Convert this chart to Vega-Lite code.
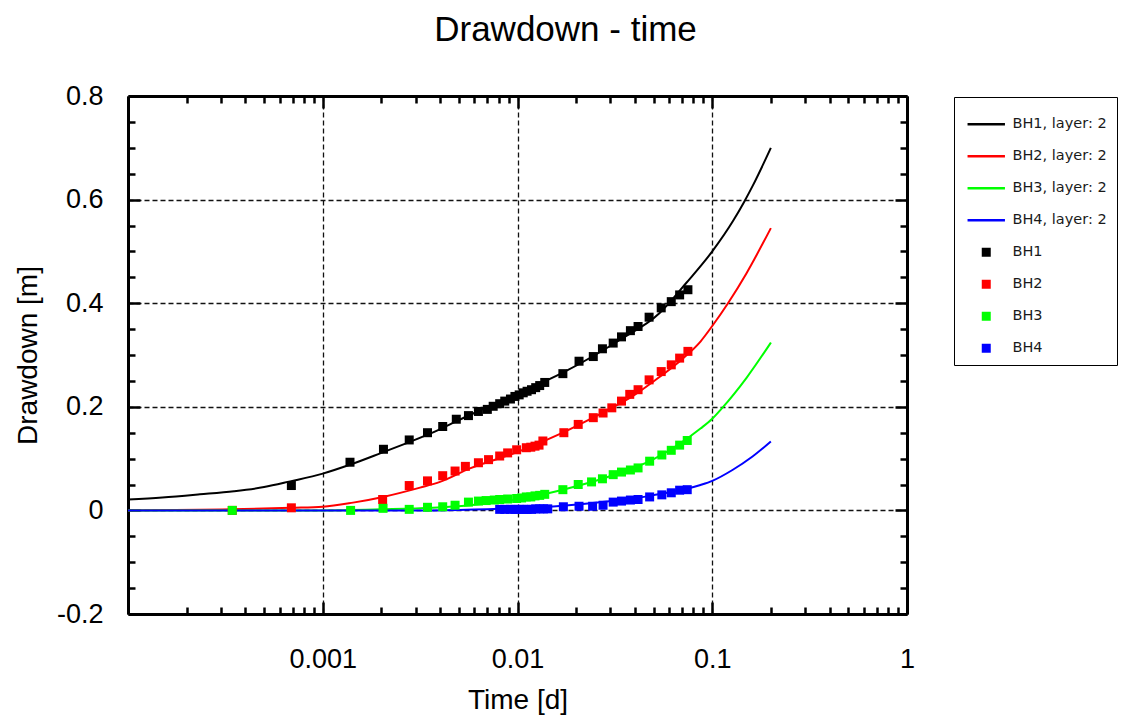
{
"$schema": "https://vega.github.io/schema/vega-lite/v6.json",
"width": 779, "height": 518,
"autosize": "none",
"padding": {"left": 128, "top": 96, "right": 214, "bottom": 106},
"background": "white",
"title": {"text": "Drawdown - time", "font": "Liberation Sans", "fontSize": 35, "fontWeight": "normal", "color": "#000", "anchor": "middle", "dx": 48, "offset": 34},
"config": {
  "view": {"stroke": null},
  "legend": {"orient": "none", "legendX": 826, "legendY": 1, "padding": 10, "strokeColor": "#000", "strokeWidth": 1, "fillColor": "white", "labelFont": "DejaVu Sans", "labelFontSize": 14.5, "labelColor": "#1a1a1a", "labelOffset": 19, "symbolOffset": 15, "rowPadding": 17, "symbolSize": 1400, "symbolStrokeWidth": 2.5, "labelLimit": 300, "titleFontSize": 8, "titlePadding": 2, "titleColor": "white"}
},
"datasets": {
"lines": [
{"series":"BH1, layer: 2","t":0.0001,"s":0.021},{"series":"BH1, layer: 2","t":0.00015,"s":0.025},{"series":"BH1, layer: 2","t":0.000234,"s":0.031},{"series":"BH1, layer: 2","t":0.00035,"s":0.037},{"series":"BH1, layer: 2","t":0.0005,"s":0.045},{"series":"BH1, layer: 2","t":0.00068,"s":0.056},{"series":"BH1, layer: 2","t":0.001,"s":0.071},{"series":"BH1, layer: 2","t":0.0014,"s":0.089},{"series":"BH1, layer: 2","t":0.002,"s":0.111},{"series":"BH1, layer: 2","t":0.0027,"s":0.130},{"series":"BH1, layer: 2","t":0.00366,"s":0.150},{"series":"BH1, layer: 2","t":0.00466,"s":0.169},{"series":"BH1, layer: 2","t":0.0065,"s":0.194},{"series":"BH1, layer: 2","t":0.0099,"s":0.225},{"series":"BH1, layer: 2","t":0.0171,"s":0.266},{"series":"BH1, layer: 2","t":0.0335,"s":0.329},{"series":"BH1, layer: 2","t":0.0537,"s":0.381},{"series":"BH1, layer: 2","t":0.0735,"s":0.439},{"series":"BH1, layer: 2","t":0.1,"s":0.50},{"series":"BH1, layer: 2","t":0.128,"s":0.559},{"series":"BH1, layer: 2","t":0.1455,"s":0.595},{"series":"BH1, layer: 2","t":0.161,"s":0.626},{"series":"BH1, layer: 2","t":0.2,"s":0.70},
{"series":"BH2, layer: 2","t":0.0001,"s":0.0},{"series":"BH2, layer: 2","t":0.00034,"s":0.002},{"series":"BH2, layer: 2","t":0.00069,"s":0.005},{"series":"BH2, layer: 2","t":0.001,"s":0.007},{"series":"BH2, layer: 2","t":0.00143,"s":0.015},{"series":"BH2, layer: 2","t":0.00204,"s":0.026},{"series":"BH2, layer: 2","t":0.00316,"s":0.044},{"series":"BH2, layer: 2","t":0.004,"s":0.055},{"series":"BH2, layer: 2","t":0.0057,"s":0.081},{"series":"BH2, layer: 2","t":0.0099,"s":0.112},{"series":"BH2, layer: 2","t":0.0171,"s":0.150},{"series":"BH2, layer: 2","t":0.0236,"s":0.176},{"series":"BH2, layer: 2","t":0.0288,"s":0.193},{"series":"BH2, layer: 2","t":0.0392,"s":0.221},{"series":"BH2, layer: 2","t":0.0495,"s":0.248},{"series":"BH2, layer: 2","t":0.07,"s":0.292},{"series":"BH2, layer: 2","t":0.087,"s":0.326},{"series":"BH2, layer: 2","t":0.1,"s":0.356},{"series":"BH2, layer: 2","t":0.12,"s":0.399},{"series":"BH2, layer: 2","t":0.15,"s":0.458},{"series":"BH2, layer: 2","t":0.2,"s":0.545},
{"series":"BH3, layer: 2","t":0.0001,"s":0.0},{"series":"BH3, layer: 2","t":0.001,"s":0.0},{"series":"BH3, layer: 2","t":0.002,"s":0.002},{"series":"BH3, layer: 2","t":0.00366,"s":0.005},{"series":"BH3, layer: 2","t":0.0057,"s":0.010},{"series":"BH3, layer: 2","t":0.0099,"s":0.021},{"series":"BH3, layer: 2","t":0.0171,"s":0.040},{"series":"BH3, layer: 2","t":0.0288,"s":0.064},{"series":"BH3, layer: 2","t":0.0495,"s":0.098},{"series":"BH3, layer: 2","t":0.087,"s":0.158},{"series":"BH3, layer: 2","t":0.1,"s":0.177},{"series":"BH3, layer: 2","t":0.112,"s":0.197},{"series":"BH3, layer: 2","t":0.15,"s":0.256},{"series":"BH3, layer: 2","t":0.2,"s":0.324},
{"series":"BH4, layer: 2","t":0.0001,"s":0.0},{"series":"BH4, layer: 2","t":0.003,"s":0.0},{"series":"BH4, layer: 2","t":0.005,"s":0.001},{"series":"BH4, layer: 2","t":0.0099,"s":0.004},{"series":"BH4, layer: 2","t":0.0171,"s":0.009},{"series":"BH4, layer: 2","t":0.0288,"s":0.017},{"series":"BH4, layer: 2","t":0.0495,"s":0.029},{"series":"BH4, layer: 2","t":0.087,"s":0.049},{"series":"BH4, layer: 2","t":0.1,"s":0.057},{"series":"BH4, layer: 2","t":0.127,"s":0.078},{"series":"BH4, layer: 2","t":0.161,"s":0.104},{"series":"BH4, layer: 2","t":0.2,"s":0.133}
],
"points": [
{"series":"BH1","t":0.00069,"s":0.048},{"series":"BH1","t":0.00138,"s":0.093},{"series":"BH1","t":0.00205,"s":0.118},{"series":"BH1","t":0.00278,"s":0.136},{"series":"BH1","t":0.00345,"s":0.150},{"series":"BH1","t":0.00413,"s":0.162},{"series":"BH1","t":0.00485,"s":0.176},{"series":"BH1","t":0.0056,"s":0.183},{"series":"BH1","t":0.0063,"s":0.191},{"series":"BH1","t":0.007,"s":0.195},{"series":"BH1","t":0.0075,"s":0.201},{"series":"BH1","t":0.0081,"s":0.206},{"series":"BH1","t":0.0086,"s":0.211},{"series":"BH1","t":0.0092,"s":0.215},{"series":"BH1","t":0.0097,"s":0.220},{"series":"BH1","t":0.0102,"s":0.223},{"series":"BH1","t":0.0107,"s":0.227},{"series":"BH1","t":0.0112,"s":0.230},{"series":"BH1","t":0.0118,"s":0.233},{"series":"BH1","t":0.0124,"s":0.237},{"series":"BH1","t":0.013,"s":0.241},{"series":"BH1","t":0.0138,"s":0.247},{"series":"BH1","t":0.0171,"s":0.264},{"series":"BH1","t":0.0207,"s":0.288},{"series":"BH1","t":0.0245,"s":0.297},{"series":"BH1","t":0.0273,"s":0.312},{"series":"BH1","t":0.031,"s":0.323},{"series":"BH1","t":0.0342,"s":0.335},{"series":"BH1","t":0.038,"s":0.347},{"series":"BH1","t":0.0416,"s":0.355},{"series":"BH1","t":0.0474,"s":0.373},{"series":"BH1","t":0.0547,"s":0.391},{"series":"BH1","t":0.0616,"s":0.403},{"series":"BH1","t":0.068,"s":0.416},{"series":"BH1","t":0.075,"s":0.426},
{"series":"BH2","t":0.000343,"s":0.0},{"series":"BH2","t":0.00069,"s":0.005},{"series":"BH2","t":0.00203,"s":0.021},{"series":"BH2","t":0.00278,"s":0.048},{"series":"BH2","t":0.00345,"s":0.057},{"series":"BH2","t":0.00413,"s":0.067},{"series":"BH2","t":0.00478,"s":0.076},{"series":"BH2","t":0.0054,"s":0.085},{"series":"BH2","t":0.0063,"s":0.092},{"series":"BH2","t":0.0071,"s":0.098},{"series":"BH2","t":0.0081,"s":0.105},{"series":"BH2","t":0.0089,"s":0.111},{"series":"BH2","t":0.0099,"s":0.117},{"series":"BH2","t":0.0111,"s":0.121},{"series":"BH2","t":0.0117,"s":0.122},{"series":"BH2","t":0.0123,"s":0.124},{"series":"BH2","t":0.0129,"s":0.126},{"series":"BH2","t":0.0135,"s":0.134},{"series":"BH2","t":0.0173,"s":0.150},{"series":"BH2","t":0.0205,"s":0.166},{"series":"BH2","t":0.0245,"s":0.179},{"series":"BH2","t":0.0275,"s":0.188},{"series":"BH2","t":0.0305,"s":0.198},{"series":"BH2","t":0.0342,"s":0.211},{"series":"BH2","t":0.0377,"s":0.224},{"series":"BH2","t":0.0416,"s":0.233},{"series":"BH2","t":0.0474,"s":0.252},{"series":"BH2","t":0.0547,"s":0.268},{"series":"BH2","t":0.0616,"s":0.281},{"series":"BH2","t":0.068,"s":0.294},{"series":"BH2","t":0.075,"s":0.307},
{"series":"BH3","t":0.000343,"s":0.0},{"series":"BH3","t":0.00139,"s":0.0},{"series":"BH3","t":0.00204,"s":0.004},{"series":"BH3","t":0.00278,"s":0.002},{"series":"BH3","t":0.00345,"s":0.006},{"series":"BH3","t":0.00413,"s":0.007},{"series":"BH3","t":0.00478,"s":0.010},{"series":"BH3","t":0.0056,"s":0.016},{"series":"BH3","t":0.0063,"s":0.018},{"series":"BH3","t":0.0069,"s":0.019},{"series":"BH3","t":0.0076,"s":0.020},{"series":"BH3","t":0.0081,"s":0.021},{"series":"BH3","t":0.0089,"s":0.022},{"series":"BH3","t":0.0099,"s":0.023},{"series":"BH3","t":0.0105,"s":0.024},{"series":"BH3","t":0.0111,"s":0.026},{"series":"BH3","t":0.0117,"s":0.026},{"series":"BH3","t":0.0123,"s":0.028},{"series":"BH3","t":0.013,"s":0.029},{"series":"BH3","t":0.0138,"s":0.031},{"series":"BH3","t":0.0171,"s":0.040},{"series":"BH3","t":0.0205,"s":0.050},{"series":"BH3","t":0.024,"s":0.055},{"series":"BH3","t":0.0273,"s":0.061},{"series":"BH3","t":0.031,"s":0.069},{"series":"BH3","t":0.0342,"s":0.074},{"series":"BH3","t":0.038,"s":0.078},{"series":"BH3","t":0.0416,"s":0.082},{"series":"BH3","t":0.0477,"s":0.095},{"series":"BH3","t":0.0551,"s":0.107},{"series":"BH3","t":0.0616,"s":0.116},{"series":"BH3","t":0.068,"s":0.126},{"series":"BH3","t":0.0744,"s":0.135},
{"series":"BH4","t":0.0081,"s":0.002},{"series":"BH4","t":0.0086,"s":0.002},{"series":"BH4","t":0.0092,"s":0.002},{"series":"BH4","t":0.0097,"s":0.002},{"series":"BH4","t":0.0102,"s":0.002},{"series":"BH4","t":0.0107,"s":0.002},{"series":"BH4","t":0.0112,"s":0.002},{"series":"BH4","t":0.0118,"s":0.002},{"series":"BH4","t":0.0124,"s":0.003},{"series":"BH4","t":0.013,"s":0.003},{"series":"BH4","t":0.0136,"s":0.003},{"series":"BH4","t":0.0143,"s":0.003},{"series":"BH4","t":0.0172,"s":0.007},{"series":"BH4","t":0.0207,"s":0.008},{"series":"BH4","t":0.0243,"s":0.008},{"series":"BH4","t":0.0275,"s":0.010},{"series":"BH4","t":0.031,"s":0.016},{"series":"BH4","t":0.0342,"s":0.018},{"series":"BH4","t":0.038,"s":0.020},{"series":"BH4","t":0.0416,"s":0.021},{"series":"BH4","t":0.0477,"s":0.026},{"series":"BH4","t":0.0551,"s":0.030},{"series":"BH4","t":0.0616,"s":0.034},{"series":"BH4","t":0.068,"s":0.039},{"series":"BH4","t":0.0744,"s":0.040}
]
},
"resolve": {"axis": {"x": "independent", "y": "independent"}},
"layer": [
{
 "data": {"name": "lines"},
 "mark": {"type": "line", "strokeWidth": 2, "interpolate": "monotone"},
 "encoding": {
  "x": {"field": "t", "type": "quantitative",
   "scale": {"type": "log", "domain": [0.0001, 1], "nice": false},
   "axis": {"orient": "bottom", "title": "Time [d]",
    "values": [0.0001,0.0002,0.0003,0.0004,0.0005,0.0006,0.0007,0.0008,0.0009,0.001,0.002,0.003,0.004,0.005,0.006,0.007,0.008,0.009,0.01,0.02,0.03,0.04,0.05,0.06,0.07,0.08,0.09,0.1,0.2,0.3,0.4,0.5,0.6,0.7,0.8,0.9,1],
    "labelExpr": "(abs(log(datum.value)/LN10 - round(log(datum.value)/LN10)) < 0.01 && datum.value > 0.0005) ? format(datum.value, '~g') : ''",
    "tickSize": {"condition": {"test": "abs(log(datum.value)/LN10 - round(log(datum.value)/LN10)) < 0.01", "value": -12}, "value": -7},
    "grid": true,
    "gridOpacity": {"condition": {"test": "abs(log(datum.value)/LN10 - round(log(datum.value)/LN10)) < 0.01 && datum.value > 0.0005 && datum.value < 0.5", "value": 1}, "value": 0},
    "gridDash": [5, 3], "gridColor": "#111", "gridWidth": 1.3,
    "domainColor": "#000", "domainWidth": 3, "tickColor": "#000", "tickWidth": 2.5,
    "labelFont": "Liberation Sans", "labelFontSize": 27, "labelColor": "#000", "labelPadding": 44,
    "labelFlush": false, "labelOverlap": false, "labelBound": false,
    "titleFont": "Liberation Sans", "titleFontSize": 28, "titleFontWeight": "normal", "titleColor": "#000", "titlePadding": 9}
  },
  "y": {"field": "s", "type": "quantitative",
   "scale": {"domain": [-0.2, 0.8], "nice": false, "zero": false},
   "axis": {"orient": "left", "title": "Drawdown [m]",
    "values": [-0.2,-0.15,-0.1,-0.05,0,0.05,0.1,0.15,0.2,0.25,0.3,0.35,0.4,0.45,0.5,0.55,0.6,0.65,0.7,0.75,0.8],
    "labelExpr": "abs(datum.value*5 - round(datum.value*5)) < 0.01 ? '' + datum.value : ''",
    "tickSize": {"condition": {"test": "abs(datum.value*5 - round(datum.value*5)) < 0.01", "value": -12}, "value": -7},
    "grid": true,
    "gridOpacity": {"condition": {"test": "abs(datum.value*5 - round(datum.value*5)) < 0.01 && datum.value > -0.15 && datum.value < 0.75", "value": 1}, "value": 0},
    "gridDash": [5, 3], "gridColor": "#111", "gridWidth": 1.3,
    "domainColor": "#000", "domainWidth": 3, "tickColor": "#000", "tickWidth": 2.5,
    "labelFont": "Liberation Sans", "labelFontSize": 27, "labelColor": "#000", "labelPadding": 37,
    "labelFlush": false, "labelOverlap": false, "labelBound": false,
    "titleFont": "Liberation Sans", "titleFontSize": 28, "titleFontWeight": "normal", "titleColor": "#000", "titlePadding": 14}
  },
  "color": {"field": "series", "type": "nominal", "title": " ",
   "scale": {"domain": ["BH1, layer: 2","BH2, layer: 2","BH3, layer: 2","BH4, layer: 2","BH1","BH2","BH3","BH4"], "range": ["#000000","#ff0000","#00ff00","#0000ff","#000000","#ff0000","#00ff00","#0000ff"]},
   "legend": {"encode": {"symbols": {"update": {
     "shape": {"signal": "datum.index < 4 ? 'stroke' : 'square'"},
     "size": {"signal": "datum.index < 4 ? 1400 : 81"},
     "fill": {"scale": "color", "field": "value"},
     "strokeWidth": {"signal": "datum.index < 4 ? 2.5 : 0"}}}}}
  }
 }
},
{
 "data": {"name": "points"},
 "mark": {"type": "point", "filled": true, "opacity": 1, "shape": "square", "size": 81},
 "encoding": {
  "x": {"field": "t", "type": "quantitative",
   "scale": {"type": "log", "domain": [0.0001, 1], "nice": false},
   "axis": {"orient": "top", "title": null, "labels": false, "grid": false,
    "values": [0.0001,0.0002,0.0003,0.0004,0.0005,0.0006,0.0007,0.0008,0.0009,0.001,0.002,0.003,0.004,0.005,0.006,0.007,0.008,0.009,0.01,0.02,0.03,0.04,0.05,0.06,0.07,0.08,0.09,0.1,0.2,0.3,0.4,0.5,0.6,0.7,0.8,0.9,1],
    "tickSize": {"condition": {"test": "abs(log(datum.value)/LN10 - round(log(datum.value)/LN10)) < 0.01", "value": -12}, "value": -7},
    "domainColor": "#000", "domainWidth": 3, "tickColor": "#000", "tickWidth": 2.5}
  },
  "y": {"field": "s", "type": "quantitative",
   "scale": {"domain": [-0.2, 0.8], "nice": false, "zero": false},
   "axis": {"orient": "right", "title": null, "labels": false, "grid": false,
    "values": [-0.2,-0.15,-0.1,-0.05,0,0.05,0.1,0.15,0.2,0.25,0.3,0.35,0.4,0.45,0.5,0.55,0.6,0.65,0.7,0.75,0.8],
    "tickSize": {"condition": {"test": "abs(datum.value*5 - round(datum.value*5)) < 0.01", "value": -12}, "value": -7},
    "domainColor": "#000", "domainWidth": 3, "tickColor": "#000", "tickWidth": 2.5}
  },
  "color": {"field": "series", "type": "nominal", "title": " ",
   "scale": {"domain": ["BH1, layer: 2","BH2, layer: 2","BH3, layer: 2","BH4, layer: 2","BH1","BH2","BH3","BH4"], "range": ["#000000","#ff0000","#00ff00","#0000ff","#000000","#ff0000","#00ff00","#0000ff"]}
  }
 }
}
]
}
